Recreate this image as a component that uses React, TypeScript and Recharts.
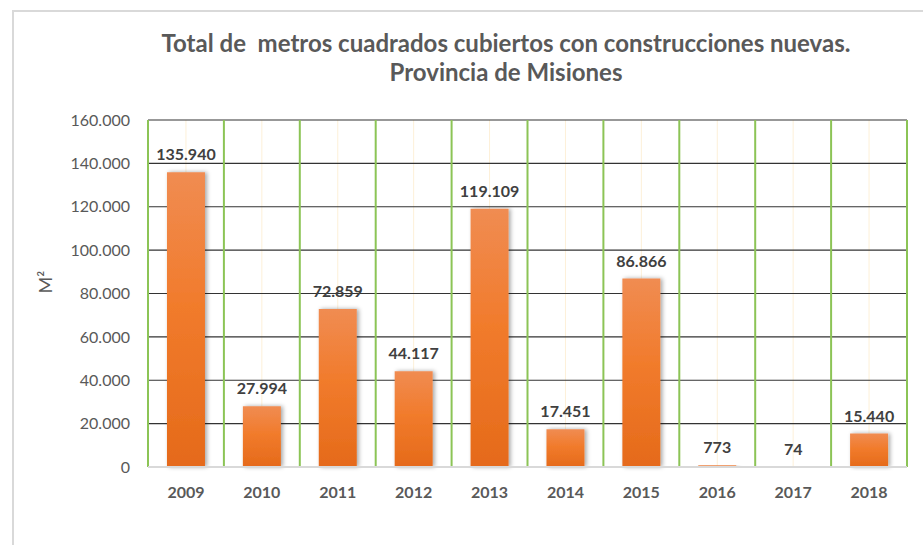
import { BarChart, Bar, XAxis, YAxis, CartesianGrid, LabelList } from "recharts";

const years = ["2009", "2010", "2011", "2012", "2013", "2014", "2015", "2016", "2017", "2018"];
const metros = [135940, 27994, 72859, 44117, 119109, 17451, 86866, 773, 74, 15440];
const yTicks = [0, 20000, 40000, 60000, 80000, 100000, 120000, 140000, 160000];

const data = years.map((year, i) => ({ year, metros: metros[i] }));

const fmt = (v: number) => v.toLocaleString("es-AR").replace(/,/g, ".");

const FONT = "Lato, 'Open Sans', sans-serif";

export default function App() {
  return (
    <div
      style={{
        position: "absolute",
        left: 0,
        top: 0,
        width: 923,
        height: 545,
        overflow: "hidden",
        background: "#fff",
        fontFamily: FONT,
      }}
    >
      {/* chart frame, only left and top edges are visible */}
      <div
        style={{
          position: "absolute",
          left: 12,
          top: 10,
          width: 1000,
          height: 700,
          border: "2px solid #d9d9d9",
        }}
      />
      <div
        style={{
          position: "absolute",
          left: 0,
          width: 1012,
          top: 28,
          textAlign: "center",
          color: "#595959",
          fontWeight: 700,
          fontSize: 24,
          lineHeight: "29px",
        }}
      >
        Total de&nbsp; metros cuadrados cubiertos con construcciones nuevas.
        <br />
        Provincia de Misiones
      </div>
      <div style={{ position: "absolute", left: 0, top: 0 }}>
        <BarChart
          width={923}
          height={545}
          data={data}
          margin={{ top: 120, right: 16, left: 0, bottom: 48 }}
          barCategoryGap="25%"
        >
          <defs>
            <linearGradient id="barFill" x1="0" y1="0" x2="0" y2="1">
              <stop offset="0%" stopColor="#f08c52" />
              <stop offset="45%" stopColor="#f17b2c" />
              <stop offset="100%" stopColor="#e56a1a" />
            </linearGradient>
            <filter id="barShadow" x="-30%" y="-10%" width="160%" height="120%">
              <feDropShadow dx="2" dy="0" stdDeviation="2" floodColor="#000" floodOpacity="0.35" />
            </filter>
          </defs>
          <CartesianGrid horizontal={false} stroke="#fdf0d8" strokeWidth={1} />
          <CartesianGrid
            vertical={false}
            stroke="#333333"
            strokeWidth={1.2}
          />
          <CartesianGrid
            horizontal={false}
            stroke="#8cc456"
            strokeWidth={2}
            verticalCoordinatesGenerator={({ offset }: any) =>
              years.map((_, i) => offset.left + (offset.width * i) / years.length).concat(offset.left + offset.width)
            }
          />
          <XAxis
            dataKey="year"
            tickLine={false}
            axisLine={{ stroke: "#d9d9d9", strokeWidth: 2 }}
            tickMargin={14}
            tick={{ fill: "#595959", fontSize: 16, fontWeight: 700, fontFamily: FONT }}
          />
          <YAxis
            width={148}
            domain={[0, 160000]}
            ticks={yTicks}
            tickFormatter={fmt}
            tickLine={false}
            axisLine={false}
            tickMargin={12}
            tick={{ fill: "#595959", fontSize: 16, fontFamily: FONT }}
            label={{
              value: "M²",
              angle: -90,
              position: "insideLeft",
              offset: 46,
              fill: "#595959",
              fontSize: 18,
              fontFamily: FONT,
            }}
          />
          <Bar
            dataKey="metros"
            fill="url(#barFill)"
            filter="url(#barShadow)"
            isAnimationActive={false}
          >
            <LabelList
              dataKey="metros"
              position="top"
              offset={12}
              formatter={(v: any) => fmt(Number(v))}
              fill="#404040"
              fontSize={16}
              fontWeight={700}
              fontFamily={FONT}
            />
          </Bar>
        </BarChart>
      </div>
    </div>
  );
}
